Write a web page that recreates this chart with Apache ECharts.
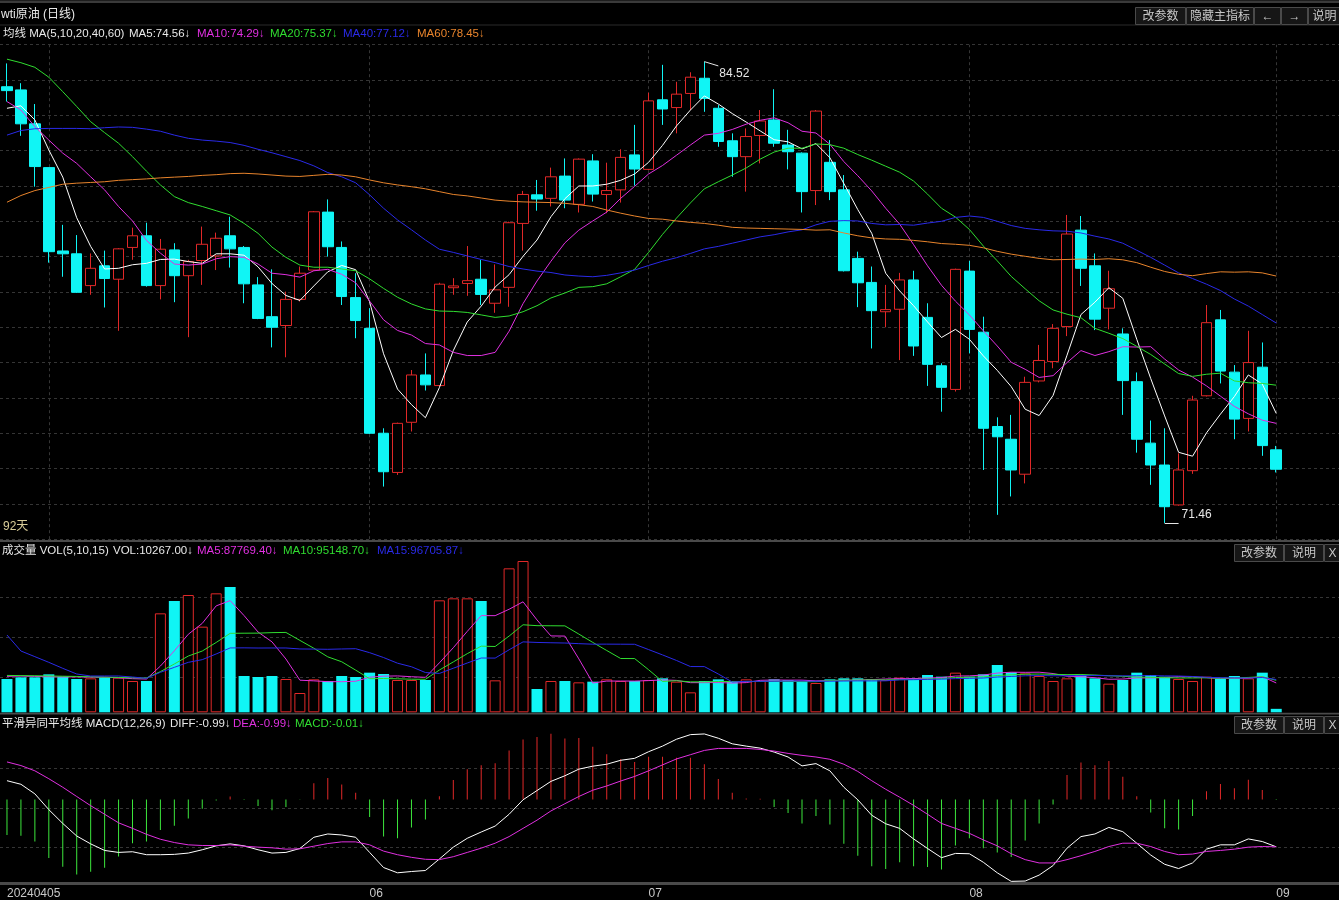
<!DOCTYPE html>
<html><head><meta charset="utf-8">
<script src="https://cdn.jsdelivr.net/npm/echarts@6/dist/echarts.min.js"></script>
<style>html,body{margin:0;padding:0;background:#000;}#c{width:1339px;height:900px;}</style>
</head><body><div id="c"></div>
<script>
// ---------- data ----------
const dates = ['20240426','20240429','20240430','20240501','20240502','20240503','20240506','20240507','20240508','20240509','20240510','20240513','20240514','20240515','20240516','20240517','20240520','20240521','20240522','20240523','20240524','20240527','20240528','20240529','20240530','20240531','20240603','20240604','20240605','20240606','20240607','20240610','20240611','20240612','20240613','20240614','20240617','20240618','20240619','20240620','20240621','20240624','20240625','20240626','20240627','20240628','20240701','20240702','20240703','20240704','20240705','20240708','20240709','20240710','20240711','20240712','20240715','20240716','20240717','20240718','20240719','20240722','20240723','20240724','20240725','20240726','20240729','20240730','20240731','20240801','20240802','20240805','20240806','20240807','20240808','20240809','20240812','20240813','20240814','20240815','20240816','20240819','20240820','20240821','20240822','20240823','20240826','20240827','20240828','20240829','20240830','20240902'];
const tickIdx = [0,26,46,69,91];
const tickText = ['20240405','06','07','08','09'];

const open = [83.81,83.72,82.76,81.52,79.16,79.08,78.18,78.74,78.36,79.26,79.59,78.18,79.19,78.46,78.89,79.02,79.59,79.26,78.20,77.30,77.05,77.79,78.62,80.26,79.26,77.84,76.97,74.00,72.89,74.31,75.65,75.35,78.12,78.24,78.36,77.68,78.13,79.94,80.75,80.65,81.28,80.48,81.71,80.76,80.89,81.88,81.47,83.44,83.22,83.62,84.05,83.20,82.28,81.83,82.43,82.87,82.16,81.93,80.87,81.67,80.89,78.95,78.27,77.44,77.51,78.34,77.28,75.91,75.24,78.59,76.86,74.19,73.83,72.84,75.48,76.03,77.02,79.75,78.74,77.54,76.81,75.46,73.72,73.10,71.97,72.94,75.06,77.21,75.73,74.42,75.87,73.53];
const close = [83.70,82.76,81.55,79.14,79.08,77.99,78.67,78.38,79.22,79.59,78.18,79.21,78.46,78.86,79.35,79.52,79.22,78.23,77.25,77.00,77.79,78.53,80.27,79.28,77.87,77.19,74.00,72.91,74.28,75.65,75.37,78.22,78.17,78.32,77.93,78.06,79.96,80.76,80.63,81.26,80.60,81.76,80.77,80.87,81.81,81.48,83.41,83.18,83.60,84.08,83.48,82.26,81.83,82.40,82.84,82.21,81.97,80.84,83.12,80.84,78.60,78.26,77.47,77.50,78.34,76.47,75.95,75.30,78.64,76.94,74.14,73.90,72.96,75.44,76.06,76.97,79.64,78.67,77.23,78.09,75.49,73.83,73.10,71.92,72.96,74.94,77.13,75.76,74.40,76.00,73.65,72.98];
const high = [84.47,83.91,83.32,81.52,79.90,79.61,79.09,79.17,79.24,79.82,79.96,79.50,79.38,78.91,79.85,79.68,80.13,79.30,78.42,78.64,78.01,78.72,80.29,80.62,79.43,78.53,77.54,74.14,74.30,75.79,76.26,78.26,78.39,79.30,78.91,78.78,79.99,80.86,81.17,81.52,81.78,81.78,81.90,81.66,82.04,82.73,83.64,84.43,83.95,84.22,84.52,83.29,82.49,82.63,83.15,83.74,82.59,81.95,83.15,82.30,81.31,79.14,78.72,78.20,78.54,78.60,77.68,75.98,78.66,78.88,77.30,74.45,74.52,75.60,76.50,77.09,80.18,80.15,79.09,78.60,76.97,75.72,74.36,74.14,73.43,75.06,77.63,77.49,75.93,76.90,76.57,73.64];
const low = [83.39,82.42,80.98,78.83,78.43,77.97,77.92,77.56,76.90,78.91,78.15,77.79,77.71,76.72,78.20,78.62,78.69,77.68,77.23,76.43,76.15,77.73,78.60,79.00,77.63,76.69,73.98,72.49,72.82,74.05,75.21,75.33,77.92,77.89,77.63,77.41,77.58,79.17,80.30,80.42,80.37,80.25,80.56,80.23,80.53,81.01,81.45,82.73,82.49,83.15,83.10,82.11,81.26,80.84,81.64,82.11,81.47,80.25,80.46,80.60,78.58,77.57,76.40,77.00,76.07,76.19,75.34,74.61,75.18,76.26,72.96,71.69,72.21,72.58,75.44,75.84,76.75,78.17,76.92,76.94,74.52,73.45,72.54,71.46,71.95,72.85,75.04,75.41,73.83,74.05,73.36,72.89];

const ma5 = [83.20,83.27,82.87,82.02,81.25,80.10,79.29,78.65,78.67,78.77,78.81,78.92,78.93,78.86,78.81,79.08,79.08,79.04,78.71,78.24,77.90,77.76,78.17,78.57,78.75,78.63,77.72,76.25,75.25,74.81,74.44,75.29,76.34,77.15,77.60,78.14,78.49,79.01,79.47,80.13,80.64,81.00,81.00,81.05,81.16,81.34,81.67,82.15,82.70,83.15,83.55,83.32,83.05,82.81,82.56,82.31,82.25,82.05,82.20,81.80,81.07,80.33,79.66,78.53,78.03,77.61,77.15,76.71,76.94,76.66,76.19,75.78,75.32,74.68,74.50,75.07,76.21,77.36,77.71,78.12,77.82,76.66,75.55,74.49,73.46,73.35,74.01,74.54,75.04,75.65,75.39,74.56];
const ma10 = [83.39,83.15,82.68,82.30,81.93,81.64,81.26,80.89,80.42,80.01,79.46,79.10,78.79,78.76,78.79,78.94,79.00,78.98,78.79,78.53,78.49,78.42,78.60,78.64,78.50,78.26,77.74,77.21,76.91,76.78,76.54,76.50,76.29,76.20,76.20,76.29,76.89,77.67,78.31,78.87,79.39,79.75,80.01,80.26,80.65,80.99,81.34,81.58,81.87,82.16,82.44,82.49,82.60,82.75,82.86,82.93,82.79,82.55,82.50,82.18,81.69,81.29,80.86,80.37,79.92,79.34,78.74,78.19,77.74,77.35,76.90,76.47,76.01,75.81,75.58,75.63,76.00,76.34,76.20,76.31,76.45,76.44,76.45,76.10,75.79,75.59,75.34,75.05,74.76,74.55,74.37,74.28];
const ma20 = [84.59,84.49,84.36,84.08,83.67,83.25,82.82,82.51,82.21,81.83,81.42,81.03,80.70,80.53,80.42,80.30,80.18,79.94,79.66,79.27,78.98,78.76,78.70,78.70,78.65,78.60,78.37,78.10,77.85,77.66,77.52,77.46,77.45,77.42,77.35,77.28,77.32,77.44,77.61,77.83,77.97,78.13,78.15,78.23,78.43,78.64,79.12,79.63,80.09,80.52,80.92,81.12,81.31,81.51,81.76,81.96,82.07,82.07,82.19,82.17,82.07,81.89,81.73,81.56,81.39,81.14,80.77,80.37,80.12,79.77,79.30,78.88,78.44,78.09,77.75,77.49,77.37,77.27,76.97,76.83,76.68,76.46,76.23,75.96,75.69,75.61,75.67,75.70,75.48,75.43,75.41,75.36];
const ma40 = [82.44,82.57,82.62,82.63,82.63,82.63,82.62,82.65,82.67,82.66,82.61,82.55,82.44,82.35,82.30,82.27,82.23,82.15,82.04,81.94,81.83,81.72,81.57,81.38,81.26,81.09,80.75,80.37,80.04,79.76,79.47,79.21,79.12,79.02,78.92,78.83,78.72,78.65,78.59,78.55,78.48,78.45,78.43,78.47,78.54,78.62,78.75,78.87,78.97,79.09,79.22,79.29,79.38,79.47,79.56,79.62,79.70,79.76,79.90,80.00,80.02,80.01,79.94,79.90,79.91,79.89,79.95,80.00,80.11,80.15,80.11,80.00,79.88,79.80,79.76,79.73,79.72,79.67,79.58,79.50,79.38,79.18,78.98,78.76,78.54,78.38,78.22,78.04,77.80,77.60,77.36,77.12];
const ma60 = [80.54,80.73,80.87,80.96,81.05,81.08,81.10,81.12,81.16,81.18,81.20,81.23,81.25,81.27,81.30,81.32,81.35,81.36,81.34,81.31,81.28,81.27,81.30,81.33,81.31,81.26,81.17,81.09,81.03,80.98,80.92,80.84,80.76,80.72,80.66,80.60,80.57,80.55,80.54,80.53,80.51,80.47,80.42,80.32,80.23,80.15,80.08,80.06,80.01,79.97,79.94,79.89,79.83,79.81,79.80,79.79,79.78,79.77,79.75,79.76,79.67,79.59,79.53,79.50,79.49,79.46,79.42,79.37,79.35,79.32,79.25,79.15,79.07,79.01,78.95,78.91,78.92,78.93,78.92,78.94,78.91,78.83,78.70,78.58,78.50,78.46,78.52,78.57,78.56,78.57,78.54,78.45];

const vol = [98900,103850,103850,112770,105830,98900,100880,103850,102860,92960,92960,293930,330560,348380,254330,353330,372140,107810,104840,107810,98900,57320,97910,92960,107810,104840,117710,113750,95930,95930,95930,332540,338490,338490,330560,94940,427590,449360,69200,92960,92960,89000,90980,97910,92960,92960,95930,100880,90980,59300,92960,97910,92960,97910,92960,97910,95930,92960,87020,97910,100880,100880,98900,95930,102860,100880,110780,105830,117710,105830,112770,140480,118700,115730,107810,92960,100880,110780,100880,85040,95930,117710,110780,105830,98900,92960,105830,98900,107810,100880,117710,10267];
const volMa5 = [106800,107500,106500,105800,105040,105040,104446,104446,102464,99890,98702,137312,182654,231758,264032,316106,331748,287198,238490,209186,158300,95336,93356,90980,90980,92168,104246,107414,108008,105632,103850,146816,191764,240276,287202,287004,306014,328188,274330,226810,226414,158696,87020,92762,92762,92762,94148,96128,94742,88010,88010,88406,86822,88208,94940,95930,95534,95534,93356,94346,94940,95930,97118,98900,99890,99890,101870,103256,107612,108206,110584,116524,119098,118702,119098,115136,107216,105632,102662,98108,98702,102068,102068,103058,105830,105236,102860,100484,100880,101276,106226,87113];
const volMa10 = [109500,109000,108600,108000,107200,106500,105600,104500,103500,102465,101871,120879,143550,167111,181961,207404,234530,234926,235124,236609,237203,213542,190277,164735,150083,125234,99791,100385,99494,98306,98009,125531,149589,174142,196417,195427,226415,259976,257303,257006,256709,232355,207604,183546,159786,159588,126422,91574,93752,90386,90386,91277,91475,91475,91475,91970,91970,91178,90782,94643,95435,95732,96326,96128,97118,97415,98900,100187,103256,104048,105237,109197,111177,113157,113652,112860,111870,112365,110682,108603,106919,104642,103850,102860,101969,101969,102464,101276,101969,103553,105731,94987];
const volMa15 = [229600,182060,165230,148390,130570,113730,107810,107810,107810,104840,100880,118700,133550,148390,156321,173283,191169,191433,190904,191036,191036,188132,187736,187076,188066,188858,177110,162656,145826,135266,118106,115466,130845,146421,161271,161007,185692,209122,207538,206548,205756,203842,202324,202456,202258,202060,186286,170445,153945,135861,135729,113750,89990,91904,91904,92234,92696,92828,92102,92432,92960,93290,93158,93488,96392,96920,97778,98636,99956,100814,101805,104775,106491,108405,109065,108537,108537,109329,109659,108471,108141,108603,108933,108141,107679,106358,104048,102728,102200,101738,103388,97347];

const diff = [0.391,0.316,0.116,-0.214,-0.502,-0.764,-0.929,-1.066,-1.107,-1.093,-1.155,-1.155,-1.148,-1.121,-1.052,-0.970,-0.929,-0.970,-1.052,-1.121,-1.107,-1.025,-0.791,-0.722,-0.743,-0.791,-1.107,-1.423,-1.533,-1.506,-1.485,-1.245,-0.997,-0.812,-0.681,-0.557,-0.310,-0.008,0.185,0.377,0.494,0.632,0.694,0.735,0.817,0.858,0.996,1.113,1.257,1.353,1.367,1.278,1.161,1.113,1.071,0.989,0.886,0.700,0.748,0.597,0.254,-0.008,-0.331,-0.509,-0.605,-0.825,-1.025,-1.217,-1.128,-1.135,-1.313,-1.533,-1.712,-1.705,-1.581,-1.382,-1.018,-0.777,-0.722,-0.585,-0.674,-0.915,-1.162,-1.355,-1.444,-1.327,-1.039,-0.949,-0.949,-0.825,-0.880,-0.990];
const dea = [0.783,0.707,0.597,0.432,0.254,0.061,-0.131,-0.310,-0.489,-0.605,-0.729,-0.832,-0.901,-0.949,-0.963,-0.963,-0.949,-0.977,-0.997,-1.011,-1.039,-1.032,-0.977,-0.922,-0.887,-0.887,-0.949,-1.080,-1.155,-1.210,-1.251,-1.258,-1.197,-1.107,-1.018,-0.915,-0.777,-0.605,-0.434,-0.241,-0.090,0.061,0.192,0.281,0.384,0.480,0.597,0.721,0.845,0.934,1.023,1.065,1.065,1.065,1.044,1.010,0.961,0.920,0.886,0.838,0.735,0.584,0.391,0.212,0.047,-0.124,-0.310,-0.502,-0.605,-0.709,-0.846,-0.970,-1.135,-1.258,-1.327,-1.327,-1.258,-1.176,-1.087,-0.984,-0.915,-0.915,-0.984,-1.087,-1.155,-1.142,-1.087,-1.066,-1.039,-0.997,-0.984,-0.990];
const macdHist = [-0.743,-0.757,-0.880,-1.224,-1.409,-1.568,-1.513,-1.430,-1.190,-0.915,-0.880,-0.640,-0.550,-0.399,-0.193,-0.021,0.061,-0.014,-0.138,-0.227,-0.159,-0.008,0.336,0.446,0.309,0.137,-0.365,-0.777,-0.812,-0.585,-0.420,0.068,0.405,0.632,0.714,0.755,1.023,1.250,1.305,1.374,1.271,1.285,1.099,0.941,0.838,0.783,0.893,0.893,0.872,0.872,0.735,0.425,0.137,0.020,0.013,-0.158,-0.282,-0.502,-0.344,-0.523,-0.928,-1.176,-1.396,-1.451,-1.313,-1.396,-1.410,-1.465,-0.963,-0.812,-1.018,-1.107,-1.203,-0.860,-0.502,-0.104,0.508,0.769,0.714,0.803,0.474,0.068,-0.276,-0.605,-0.626,-0.344,0.171,0.322,0.233,0.412,0.199,-0.010];

// legend texts as shown in the reference
const maLegend = [['均线 MA(5,10,20,40,60)',3,'w'],['MA5:74.56↓',129,'w'],['MA10:74.29↓',197,'m'],['MA20:75.37↓',270,'g'],['MA40:77.12↓',343,'b'],['MA60:78.45↓',417,'o']];
const volLegend = [['成交量 VOL(5,10,15)',2,'w'],['VOL:10267.00↓',113,'w'],['MA5:87769.40↓',197,'m'],['MA10:95148.70↓',283,'g'],['MA15:96705.87↓',377,'b']];
const macdLegend = [['平滑异同平均线 MACD(12,26,9)',2,'w'],['DIFF:-0.99↓',170,'w'],['DEA:-0.99↓',233,'m'],['MACD:-0.01↓',295,'g']];

// ---------- styles ----------
const RED='#e02828', CYAN='#10f5f5', WHITE='#ffffff', MAG='#e030e0', GRN='#30dd30', BLUE='#2a2ae8', ORG='#e8842c', MGRN='#3ce63c';
const COL = {w:'#e8e8e8', m:MAG, g:GRN, b:BLUE, o:ORG};
const FONT = '12px "Liberation Sans","Noto Sans CJK SC",sans-serif';
const LFONT = '11.5px "Liberation Sans","Noto Sans CJK SC",sans-serif';
const GL = {color:'#353535', type:[3,3], width:1};
const cats = dates.concat(['p1','p2','p3','p4']);

function xAx(gi, extra){
  return Object.assign({type:'category', gridIndex:gi, data:cats, boundaryGap:true,
    axisTick:{show:false}, axisLabel:{show:false}, axisLine:{show:false, onZero:false}, splitLine:{show:false}}, extra||{});
}
function yAx(gi, min, max, extra){
  return Object.assign({type:'value', gridIndex:gi, min:min, max:max, scale:true,
    axisLine:{show:false}, axisTick:{show:false}, axisLabel:{show:false}, splitLine:{show:false}}, extra||{});
}
function line(name, data, color, xi, yi){
  return {name:name, type:'line', xAxisIndex:xi, yAxisIndex:yi, data:data, symbol:'none', showSymbol:false,
    lineStyle:{color:color, width:1}, itemStyle:{color:color}, silent:true, z:4};
}
function gridMarks(xi, yi, values){
  return {type:'line', xAxisIndex:xi, yAxisIndex:yi, data:[], silent:true, z:1,
    markLine:{symbol:['none','none'], silent:true, z:1, animation:false, label:{show:false}, lineStyle:GL,
      data: values.map(v=>({yAxis:v}))}};
}
function button(x, y, w, h, text){
  return {type:'group', silent:true, children:[
    {type:'rect', shape:{x:x+0.5, y:y+0.5, width:w-1, height:h-1}, style:{fill:'#161616', stroke:'#4a4a4a', lineWidth:1}},
    {type:'text', x:x+w/2, y:y+h/2+0.5, style:{text:text, fill:'#c8c8c8', font:FONT, textAlign:'center', textVerticalAlign:'middle'}}
  ]};
}
function legendTexts(arr, y){
  return arr.map(a=>({type:'text', silent:true, x:a[1], y:y, style:{text:a[0], fill:COL[a[2]], font:LFONT, textVerticalAlign:'middle'}}));
}

const hi = high.indexOf(Math.max(...high));
const lo = low.indexOf(Math.min(...low));

const candleData = dates.map((d,i)=>[open[i], close[i], low[i], high[i]]);
const volData = vol.map((v,i)=> close[i] > open[i]
  ? {value:v, itemStyle:{color:'#000000', borderColor:RED, borderWidth:1}}
  : {value:v, itemStyle:{color:CYAN, borderColor:CYAN, borderWidth:0}});
const histData = macdHist.map(v=>({value:v, itemStyle:{color: v>=0 ? RED : MGRN}}));

const GL_LEFT = -3.5, GL_RIGHT = -2.5;
const option = {
  backgroundColor:'#000000',
  animation:false,
  grid:[
    {left:GL_LEFT, right:GL_RIGHT, top:44.7, height:494.5},
    {left:GL_LEFT, right:GL_RIGHT, top:557, height:155.3},
    {left:GL_LEFT, right:GL_RIGHT, top:732, height:153}
  ],
  xAxis:[
    xAx(0), xAx(1),
    xAx(2, {
      axisLine:{show:true, onZero:false, lineStyle:{color:'#4a4a4a', width:3}},
      axisLabel:{show:true, color:'#c8c8c8', fontSize:12, fontFamily:'"Liberation Sans",sans-serif', align:'left', margin:5,
        interval:(idx)=> tickIdx.indexOf(idx) >= 0,
        formatter:(val, idx)=> { const k = tickIdx.indexOf(idx); return k >= 0 ? tickText[k] : ''; }}
    })
  ],
  yAxis:[
    yAx(0, 71, 85, {interval:1, splitLine:{show:true, lineStyle:GL}}),
    yAx(1, 0, 461241),
    yAx(2, -1.746, 1.408)
  ],
  series:[
    {type:'line', xAxisIndex:0, yAxisIndex:0, data:[], silent:true, z:1,
      markLine:{symbol:['none','none'], silent:true, z:1, label:{show:false}, lineStyle:GL,
        data: [3,26,46,69,91].map(i=>({xAxis:dates[i]}))}},
    {type:'candlestick', xAxisIndex:0, yAxisIndex:0, data:candleData, barWidth:11, silent:true, z:3,
      itemStyle:{color:'#000000', color0:CYAN, borderColor:RED, borderColor0:CYAN, borderWidth:1},
      markLine:{symbol:['none','none'], silent:true, label:{show:false}, lineStyle:{color:'#e6e6e6', width:1, type:'solid'},
        data:[
          [{coord:[dates[hi], high[hi]]}, {coord:[dates[hi+1], high[hi]-0.12]}],
          [{coord:[dates[lo], low[lo]]}, {coord:[dates[lo+1], low[lo]]}]
        ]},
      markPoint:{silent:true, symbol:'circle', symbolSize:0,
        data:[
          {coord:[dates[hi+1], high[hi]-0.12], label:{show:true, formatter:high[hi].toFixed(2), position:'right', distance:1, offset:[0,8], color:'#e6e6e6', fontSize:12, fontFamily:'"Liberation Sans",sans-serif'}},
          {coord:[dates[lo+1], low[lo]], label:{show:true, formatter:low[lo].toFixed(2), position:'right', distance:3, offset:[0,-8], color:'#e6e6e6', fontSize:12, fontFamily:'"Liberation Sans",sans-serif'}}
        ]}},
    line('MA5', ma5, WHITE, 0, 0),
    line('MA10', ma10, MAG, 0, 0),
    line('MA20', ma20, GRN, 0, 0),
    line('MA40', ma40, BLUE, 0, 0),
    line('MA60', ma60, ORG, 0, 0),

    gridMarks(1, 1, [103950, 222750, 341550]),
    {type:'bar', xAxisIndex:1, yAxisIndex:1, data:volData, barWidth:11, silent:true, z:2},
    line('VMA5', volMa5, MAG, 1, 1),
    line('VMA10', volMa10, GRN, 1, 1),
    line('VMA15', volMa15, BLUE, 1, 1),

    gridMarks(2, 2, [0.645, -0.179, -1.004]),
    {type:'bar', xAxisIndex:2, yAxisIndex:2, data:histData, barWidth:1, silent:true, z:2},
    line('DIFF', diff, WHITE, 2, 2),
    line('DEA', dea, MAG, 2, 2)
  ],
  graphic:[
    {type:'rect', silent:true, shape:{x:0, y:0.5, width:1339, height:2.5}, style:{fill:'#3a3a3a'}},
    {type:'rect', silent:true, shape:{x:0, y:24.5, width:1339, height:1}, style:{fill:'#2a2a2a'}},
    {type:'text', silent:true, x:1, y:15, style:{text:'wti原油 (日线)', fill:'#e8e8e8', font:FONT, textVerticalAlign:'middle'}},
    button(1135, 7, 51, 18, '改参数'),
    button(1186, 7, 68, 18, '隐藏主指标'),
    button(1254, 7, 27, 18, '←'),
    button(1281, 7, 27, 18, '→'),
    button(1308, 7, 33, 18, '说明'),
    ...legendTexts(maLegend, 33.5),
    {type:'text', silent:true, x:3, y:527, style:{text:'92天', fill:'#d8cc98', font:FONT, textVerticalAlign:'middle'}},
    {type:'rect', silent:true, shape:{x:0, y:540, width:1339, height:2}, style:{fill:'#4a4a4a'}},
    ...legendTexts(volLegend, 551),
    button(1234, 544, 50, 18, '改参数'),
    button(1284, 544, 40, 18, '说明'),
    button(1324, 544, 17, 18, 'X'),
    {type:'rect', silent:true, shape:{x:0, y:712.8, width:1339, height:1.6}, style:{fill:'#4a4a4a'}},
    ...legendTexts(macdLegend, 724),
    button(1234, 716, 50, 18, '改参数'),
    button(1284, 716, 40, 18, '说明'),
    button(1324, 716, 17, 18, 'X')
  ]
};

const chart = echarts.init(document.getElementById('c'), null, {renderer:'canvas', width:1339, height:900});
chart.setOption(option);
</script>
</body></html>
